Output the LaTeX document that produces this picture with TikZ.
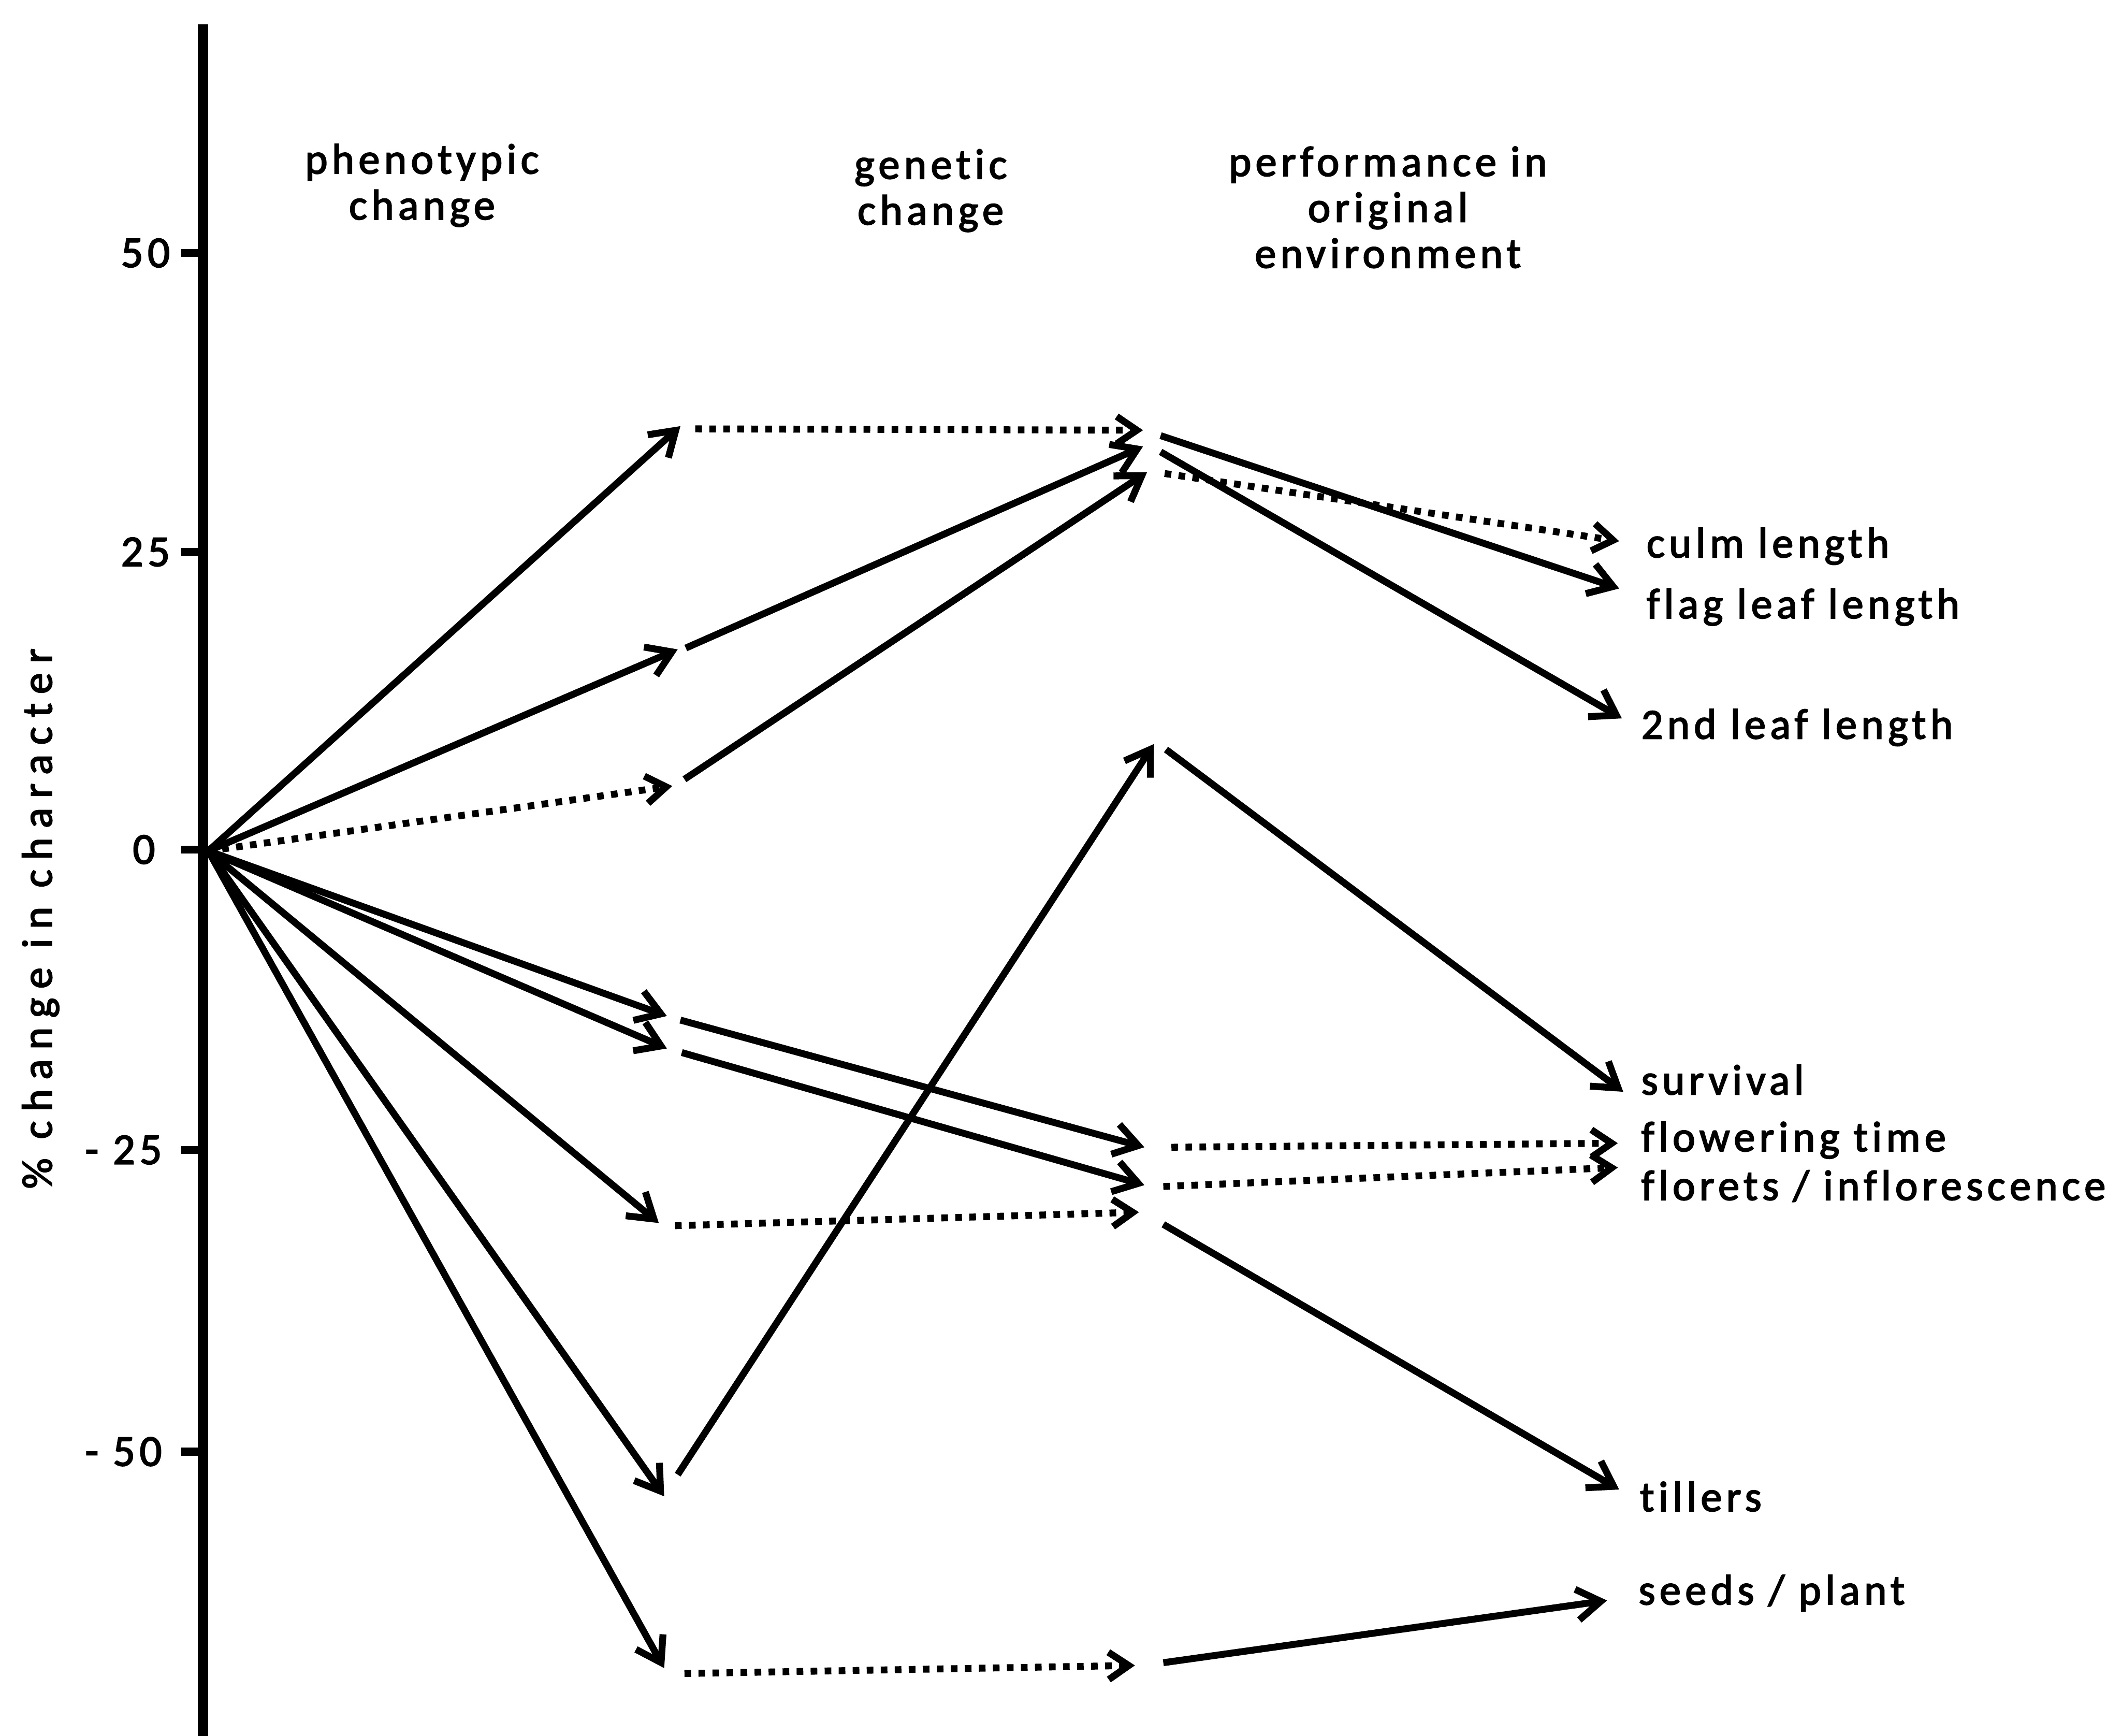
\documentclass[tikz,border=0pt]{standalone}
\usepackage{fontspec}
\setmainfont{Carlito}[LetterSpace=10,Ligatures=CommonOff,FakeBold=2.5]
\newfontfamily\ylabfont{Carlito}[LetterSpace=22,Ligatures=CommonOff,FakeBold=2.5]
\usetikzlibrary{arrows.meta}
\begin{document}
\begin{tikzpicture}[x=0.02cm, y=-0.02cm,
  solidarrow/.style={line width=2.9pt, -{Straight Barb[length=10pt,width=13pt]}},
  dotarrow/.style={line width=2.9pt, dash pattern=on 2.8pt off 3.1pt, -{Straight Barb[length=8.5pt,width=11.5pt]}},
  axisline/.style={line width=4.3pt},
  tickline/.style={line width=3.4pt},
  lab/.style={anchor=base west, inner sep=0pt, font=\fontsize{18pt}{20pt}\selectfont},
  head/.style={anchor=north, align=center, inner sep=0pt, font=\fontsize{18pt}{19.3pt}\selectfont},
  ticklab/.style={anchor=east, inner sep=0pt, font=\fontsize{18.5pt}{20pt}\selectfont}]
\useasboundingbox (0,0) rectangle (1568,1283);

% axis
\coordinate (axtop) at (150,18);
\coordinate (axbot) at (150,1290);
\draw[axisline] (axtop) -- (axbot);
\foreach \y/\n in {187/t50,408/t25,628/t0,850/tm25,1073/tm50}{
  \coordinate (\n) at (150,\y);
  \coordinate (\n l) at (134,\y);
  \draw[tickline] (\n l) -- (\n);
}
\node[ticklab] (l50) at (126,187) {50};
\node[ticklab] (l25) at (126,408) {25};
\node[ticklab] (l0) at (115,628) {0};
\node[ticklab] (lm25) at (120,850) {- 25};
\node[ticklab] (lm50) at (120,1073) {- 50};
\node[rotate=90, inner sep=0pt, font=\fontsize{18pt}{20pt}\ylabfont] (ylab) at (30,679) {\% change in character};

% headers
\node[head] (hpheno) at (312,106) {phenotypic\\change};
\node[head] (hgen) at (688,110) {genetic\\change};
\node[head] (hperf) at (1026,108) {performance in\\original\\environment};

% points
\coordinate (O) at (154,629);
\coordinate (p1) at (503,315);
\coordinate (p2) at (501,480);
\coordinate (p3) at (497,581);
\coordinate (p4) at (493,751);
\coordinate (p5) at (493,775);
\coordinate (p6) at (487,904);
\coordinate (p7) at (491,1106);
\coordinate (p8) at (491,1233);

\coordinate (p1o) at (514,317);
\coordinate (p2o) at (507,479);
\coordinate (p3o) at (506,576);
\coordinate (p4o) at (503,754);
\coordinate (p5o) at (504,778);
\coordinate (p6o) at (499,906);
\coordinate (p7o) at (501,1090);
\coordinate (p8o) at (506,1237);

\coordinate (g1) at (845,318);
\coordinate (g2) at (845,330);
\coordinate (g3) at (848,349);
\coordinate (g4) at (846,848);
\coordinate (g5) at (846,876);
\coordinate (g6) at (842,896);
\coordinate (g7) at (853,550);
\coordinate (g8) at (839,1231);

\coordinate (g1o) at (858,322);
\coordinate (g2o) at (858,334);
\coordinate (g3o) at (861,350);
\coordinate (g7o) at (862,554);
\coordinate (g4o) at (866,848);
\coordinate (g5o) at (860,877);
\coordinate (g6o) at (860,905);
\coordinate (g8o) at (860,1229);

\coordinate (eculm) at (1197,400);
\coordinate (eflag) at (1197,435);
\coordinate (esec) at (1199,531);
\coordinate (esurv) at (1200,807);
\coordinate (eflow) at (1196,845);
\coordinate (eflor) at (1196,863);
\coordinate (etill) at (1197,1101);
\coordinate (eseed) at (1188,1183);

% phenotypic change
\draw[solidarrow] (O) -- (p1);
\draw[solidarrow] (O) -- (p2);
\draw[dotarrow] (O) -- (p3);
\draw[solidarrow] (O) -- (p4);
\draw[solidarrow] (O) -- (p5);
\draw[solidarrow] (O) -- (p6);
\draw[solidarrow] (O) -- (p7);
\draw[solidarrow] (O) -- (p8);

% genetic change
\draw[dotarrow] (p1o) -- (g1);
\draw[solidarrow] (p2o) -- (g2);
\draw[solidarrow] (p3o) -- (g3);
\draw[solidarrow] (p4o) -- (g4);
\draw[solidarrow] (p5o) -- (g5);
\draw[dotarrow] (p6o) -- (g6);
\draw[solidarrow] (p7o) -- (g7);
\draw[dotarrow] (p8o) -- (g8);

% performance in original environment
\draw[solidarrow] (g1o) -- (eflag);
\draw[solidarrow] (g2o) -- (esec);
\draw[dotarrow] (g3o) -- (eculm);
\draw[solidarrow] (g7o) -- (esurv);
\draw[dotarrow] (g4o) -- (eflow);
\draw[dotarrow] (g5o) -- (eflor);
\draw[solidarrow] (g6o) -- (etill);
\draw[solidarrow] (g8o) -- (eseed);

% labels
\node[lab] (culm) at (1217,412) {culm length};
\node[lab] (flag) at (1217,457) {flag leaf length};
\node[lab] (second) at (1213,546) {2nd leaf length};
\node[lab] (surv) at (1213,809) {survival};
\node[lab] (flow) at (1213,851) {flowering time};
\node[lab] (flor) at (1213,887) {florets / inflorescence};
\node[lab] (till) at (1212,1117) {tillers};
\node[lab] (seed) at (1211,1186) {seeds / plant};
\end{tikzpicture}
\end{document}
